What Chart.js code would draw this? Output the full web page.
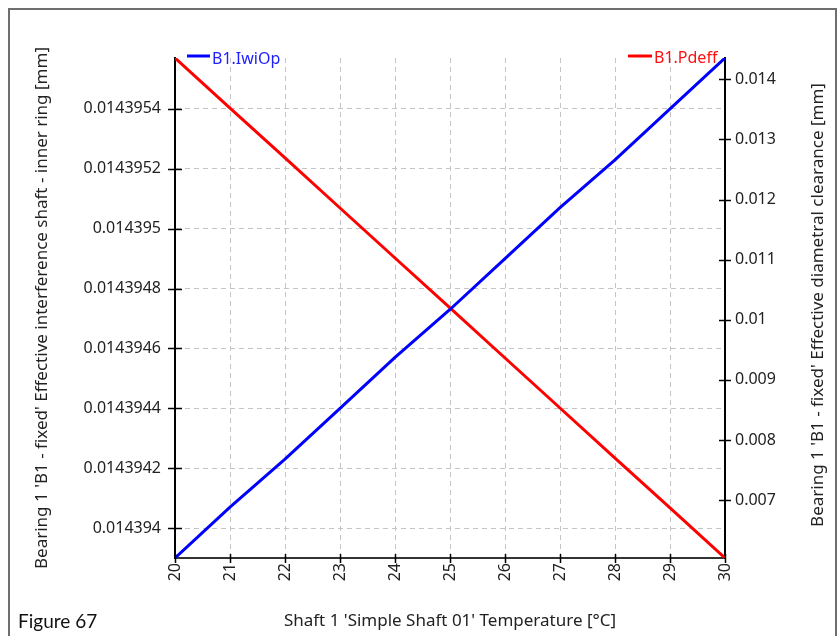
<!DOCTYPE html>
<html>
<head>
<meta charset="utf-8">
<script src="https://cdn.jsdelivr.net/npm/chart.js@4.4.1/dist/chart.umd.min.js"></script>
<style>
  html, body { margin: 0; padding: 0; background: #fff; }
  #wrap { position: relative; width: 838px; height: 636px; overflow: hidden; }
</style>
</head>
<body>
<div id="wrap"><canvas id="chart" width="838" height="636"></canvas></div>
<script>
// temperatures along the x axis
const temperatures = [20, 21, 22, 23, 24, 25, 26, 27, 28, 29, 30];

// B1.IwiOp - effective interference shaft / inner ring [mm] (left axis)
const iwiOp = [0.01439390, 0.01439407, 0.01439423, 0.01439440, 0.01439457, 0.01439473,
               0.01439490, 0.01439507, 0.01439523, 0.01439540, 0.01439557];

// B1.Pdeff - effective diametral clearance [mm] (right axis)
const pdeff = [0.014354, 0.013522, 0.012691, 0.011859, 0.011027, 0.010196,
               0.009364, 0.008532, 0.007700, 0.006869, 0.006037];

// tick labels
const xTicks = [20, 21, 22, 23, 24, 25, 26, 27, 28, 29, 30];
const leftTicks = [0.014394, 0.0143942, 0.0143944, 0.0143946, 0.0143948, 0.014395, 0.0143952, 0.0143954];
const leftTickLabels = ['0.014394', '0.0143942', '0.0143944', '0.0143946', '0.0143948', '0.014395', '0.0143952', '0.0143954'];
const rightTicks = [0.007, 0.008, 0.009, 0.010, 0.011, 0.012, 0.013, 0.014];
const rightTickLabels = ['0.007', '0.008', '0.009', '0.01', '0.011', '0.012', '0.013', '0.014'];

const tickFont = { family: 'Noto Sans', size: 16 };
const titleFont = { family: 'Noto Sans', size: 17 };
const textColor = '#222';
const gridColor = '#c4c4c4';

function setTicks(values) {
    return function (scale) {
        scale.ticks = values.map(v => ({ value: v }));
    };
}

// tick marks that cross the axis lines, plus legend, frame and caption
const extras = {
    id: 'extras',
    beforeDraw(chart) {
        const ctx = chart.ctx;
        ctx.save();
        ctx.fillStyle = '#fff';
        ctx.fillRect(0, 0, chart.width, chart.height);
        ctx.strokeStyle = '#6e6e6e';
        ctx.lineWidth = 2;
        ctx.strokeRect(9, 9, 827, 700);
        ctx.restore();
    },
    afterDraw(chart) {
        const ctx = chart.ctx;
        const area = chart.chartArea;
        const sx = chart.scales.x, sl = chart.scales.yL, sr = chart.scales.yR;
        ctx.save();
        ctx.strokeStyle = '#000';
        ctx.lineWidth = 1.5;
        ctx.beginPath();
        sl.ticks.forEach(t => {
            const y = Math.round(sl.getPixelForValue(t.value)) + 0.5;
            ctx.moveTo(area.left - 7, y); ctx.lineTo(area.left + 7, y);
        });
        sr.ticks.forEach(t => {
            const y = Math.round(sr.getPixelForValue(t.value)) + 0.5;
            ctx.moveTo(area.right - 6, y); ctx.lineTo(area.right + 6, y);
        });
        sx.ticks.forEach(t => {
            const x = Math.round(sx.getPixelForValue(t.value)) + 0.5;
            ctx.moveTo(x, area.bottom - 4); ctx.lineTo(x, area.bottom + 5);
        });
        ctx.stroke();

        // legend entries
        ctx.lineWidth = 3;
        ctx.strokeStyle = '#0000ff';
        ctx.beginPath(); ctx.moveTo(area.left + 12, area.top - 2); ctx.lineTo(area.left + 35, area.top - 2); ctx.stroke();
        ctx.strokeStyle = '#ff0000';
        ctx.beginPath(); ctx.moveTo(area.right - 97, area.top - 2); ctx.lineTo(area.right - 73, area.top - 2); ctx.stroke();
        ctx.font = '16px "Noto Sans"';
        ctx.textBaseline = 'middle';
        ctx.fillStyle = '#2020ff';
        ctx.fillText(chart.data.datasets[0].label, area.left + 37, area.top + 1);
        ctx.fillStyle = '#ff1010';
        ctx.fillText(chart.data.datasets[1].label, area.right - 71, area.top);

        // right axis title, reading upwards
        ctx.fillStyle = textColor;
        ctx.textAlign = 'center';
        ctx.font = '17px "Noto Sans"';
        ctx.translate(818, (area.top + area.bottom) / 2 - 3);
        ctx.rotate(-Math.PI / 2);
        ctx.fillText("Bearing 1 'B1 - fixed' Effective diametral clearance [mm]", 0, 0);
        ctx.restore();

        ctx.save();
        ctx.font = '19px Lato';
        ctx.fillStyle = '#111';
        ctx.textBaseline = 'alphabetic';
        ctx.fillText('Figure 67', 18, 628);
        ctx.restore();
    }
};

new Chart(document.getElementById('chart'), {
    type: 'line',
    data: {
        datasets: [{
            label: 'B1.IwiOp',
            data: temperatures.map((t, i) => ({ x: t, y: iwiOp[i] })),
            borderColor: '#0000ff',
            borderWidth: 3,
            pointRadius: 0,
            yAxisID: 'yL'
        }, {
            label: 'B1.Pdeff',
            data: temperatures.map((t, i) => ({ x: t, y: pdeff[i] })),
            borderColor: '#ff0000',
            borderWidth: 3,
            pointRadius: 0,
            yAxisID: 'yR'
        }]
    },
    options: {
        responsive: false,
        devicePixelRatio: 1,
        animation: false,
        layout: { padding: { top: 58, left: 0, right: 0, bottom: 0 } },
        plugins: { legend: { display: false }, tooltip: { enabled: false } },
        scales: {
            x: {
                type: 'linear',
                min: 20,
                max: 30,
                afterBuildTicks: setTicks(xTicks),
                afterFit(scale) { scale.height = 78; },
                grid: {
                    drawTicks: false,
                    color: c => (c.tick && (c.tick.value === 20 || c.tick.value === 30)) ? 'rgba(0,0,0,0)' : gridColor
                },
                border: { display: true, color: '#333', width: 2, dash: [5, 4] },
                ticks: {
                    minRotation: 90,
                    maxRotation: 90,
                    padding: 5,
                    color: textColor,
                    font: tickFont,
                    callback: v => String(v)
                },
                title: {
                    display: true,
                    text: "Shaft 1 'Simple Shaft 01' Temperature [°C]",
                    color: textColor,
                    font: titleFont,
                    padding: { top: 0, bottom: 5 }
                }
            },
            yL: {
                type: 'linear',
                position: 'left',
                min: iwiOp[0],
                max: iwiOp[iwiOp.length - 1],
                afterBuildTicks: setTicks(leftTicks),
                afterFit(scale) { scale.width = 175; },
                grid: { drawTicks: false, color: gridColor },
                border: { display: true, color: '#000', width: 2, dash: [5, 4] },
                ticks: {
                    padding: 14,
                    color: textColor,
                    font: tickFont,
                    callback: (v) => {
                        const i = leftTicks.findIndex(t => Math.abs(t - v) < 1e-12);
                        return i >= 0 ? leftTickLabels[i] : '';
                    }
                },
                title: {
                    display: true,
                    text: "Bearing 1 'B1 - fixed' Effective interference shaft - inner ring [mm]",
                    color: textColor,
                    font: titleFont,
                    padding: { top: 32, bottom: 0 }
                }
            },
            yR: {
                type: 'linear',
                position: 'right',
                min: pdeff[pdeff.length - 1],
                max: pdeff[0],
                afterBuildTicks: setTicks(rightTicks),
                afterFit(scale) { scale.width = 113; },
                grid: { display: false, drawOnChartArea: false },
                border: { display: true, color: '#000', width: 2 },
                ticks: {
                    padding: 2,
                    color: textColor,
                    font: tickFont,
                    callback: (v) => {
                        const i = rightTicks.findIndex(t => Math.abs(t - v) < 1e-12);
                        return i >= 0 ? rightTickLabels[i] : '';
                    }
                }
            }
        }
    },
    plugins: [extras]
});
</script>
</body>
</html>
